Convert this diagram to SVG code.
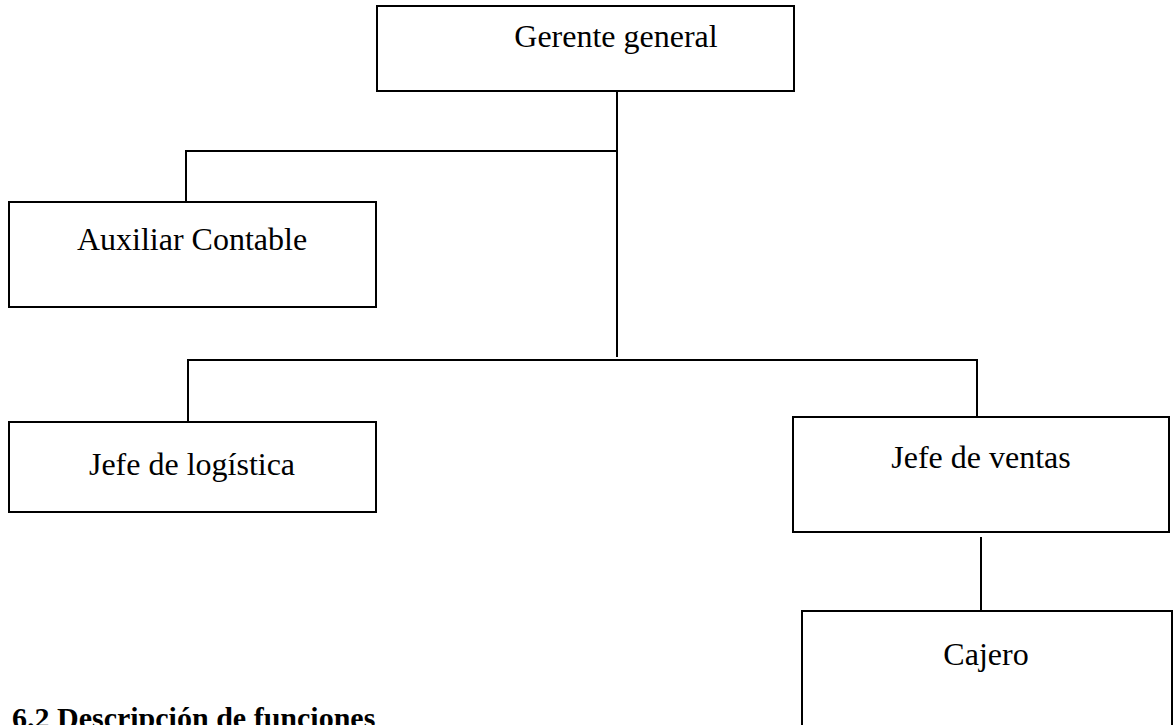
<svg xmlns="http://www.w3.org/2000/svg" width="1174" height="725" viewBox="0 0 1174 725">
<style>
.box{fill:#fff;stroke:#000;stroke-width:2}
.lbl{font-family:"Liberation Serif",serif;font-size:32px;fill:#000;text-anchor:middle}
.con{fill:none;stroke:#000;stroke-width:2}
.head{font-family:"Liberation Serif",serif;font-size:30px;font-weight:bold;fill:#000}
</style>
<rect width="1174" height="725" fill="#fff"/>
<g id="connectors">
<path class="con" d="M617,91 V357"/>
<path class="con" d="M186,202 V151 H617"/>
<path class="con" d="M188,422 V360 H977 V417"/>
<path class="con" d="M981,537 V611"/>
</g>
<g id="gerente"><rect class="box" x="377" y="6" width="417" height="85"/><text class="lbl" x="616" y="47">Gerente general</text></g>
<g id="auxiliar"><rect class="box" x="9" y="202" width="367" height="105"/><text class="lbl" x="192" y="250">Auxiliar Contable</text></g>
<g id="logistica"><rect class="box" x="9" y="422" width="367" height="90"/><text class="lbl" x="192" y="475">Jefe de logística</text></g>
<g id="ventas"><rect class="box" x="793" y="417" width="376" height="115"/><text class="lbl" x="981" y="468">Jefe de ventas</text></g>
<g id="cajero"><rect class="box" x="802" y="611" width="370" height="130"/><text class="lbl" x="986" y="665">Cajero</text></g>
<text class="head" x="12" y="728">6.2 Descripción de funciones</text>
</svg>
